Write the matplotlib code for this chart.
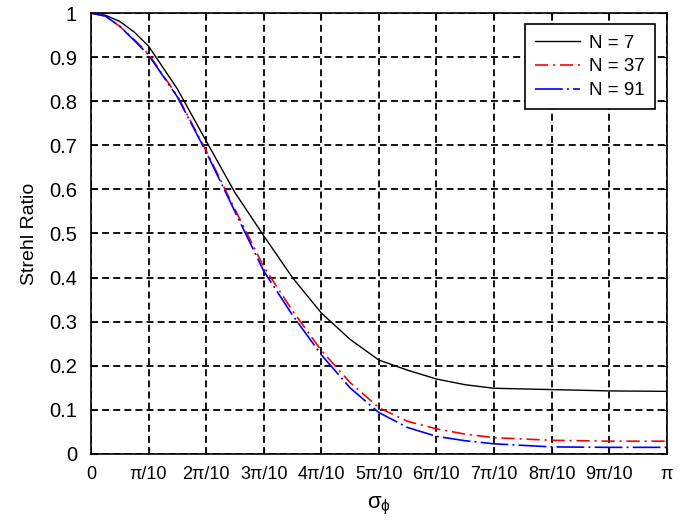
import numpy as np
import matplotlib
matplotlib.use('Agg')
import matplotlib.pyplot as plt

plt.rcParams['font.family'] = ['Liberation Sans', 'DejaVu Sans']
plt.rcParams['mathtext.fontset'] = 'custom'
plt.rcParams['mathtext.rm'] = 'Liberation Sans'
plt.rcParams['lines.scale_dashes'] = False

# x positions in units of pi/10
x_steps = [0, 0.25, 0.5, 0.75, 1, 1.5, 2, 2.5, 3, 3.5, 4, 4.5, 5, 5.5, 6, 6.5, 7, 8, 9, 10]

sr_n7 = [1.0, 0.995, 0.981, 0.957, 0.925, 0.828, 0.71, 0.593, 0.495, 0.40, 0.32,
         0.26, 0.213, 0.19, 0.17, 0.157, 0.149, 0.146, 0.143, 0.142]
sr_n37 = [1.0, 0.993, 0.97, 0.94, 0.907, 0.812, 0.688, 0.555, 0.425, 0.325, 0.235,
          0.162, 0.105, 0.074, 0.057, 0.045, 0.037, 0.031, 0.029, 0.029]
sr_n91 = [1.0, 0.993, 0.97, 0.938, 0.905, 0.81, 0.685, 0.55, 0.415, 0.315, 0.225,
          0.15, 0.094, 0.06, 0.04, 0.03, 0.023, 0.016, 0.015, 0.015]

tick_labels = ['0', 'π/10', '2π/10', '3π/10', '4π/10', '5π/10', '6π/10',
               '7π/10', '8π/10', '9π/10', 'π']

x = np.array(x_steps) * np.pi / 10

fig = plt.figure(figsize=(6.89, 5.23), dpi=100)
ax = fig.add_axes([0.132, 0.132, 0.8356, 0.8431])

ax.plot(x, sr_n7, color='black', lw=1.0, label='N = 7')
ax.plot(x, sr_n37, color='red', lw=1.2, dashes=(9.5, 3.5, 1.5, 3.5), label='N = 37')
ax.plot(x, sr_n91, color='blue', lw=1.2, dashes=(20, 3, 1.4, 3), label='N = 91')

ax.set_xlim(0, np.pi)
ax.set_ylim(0, 1)
ax.set_xticks(np.arange(11) * np.pi / 10)
ax.set_xticklabels(tick_labels)
ax.set_yticks(np.arange(11) / 10)
ax.set_yticklabels(['0', '0.1', '0.2', '0.3', '0.4', '0.5', '0.6', '0.7', '0.8', '0.9', '1'])
ax.tick_params(direction='in', length=4, top=True, right=True)
ax.tick_params(axis='y', labelsize=14.5, pad=10)
ax.tick_params(axis='x', labelsize=13, pad=9)
ax.grid(True, color='black', linestyle=(0, (5, 3)), lw=1.3)
for s in ax.spines.values():
    s.set_linewidth(1.2)

ax.set_xlabel(r'$\mathrm{\sigma_{\phi}}$', fontsize=16, labelpad=8)
ax.set_ylabel('Strehl Ratio', fontsize=14, labelpad=8)

leg = ax.legend(loc='upper right', fontsize=13.5, fancybox=False, framealpha=1,
                edgecolor='black', borderaxespad=0.6, handlelength=2.4,
                handletextpad=0.5, labelspacing=0.35, borderpad=0.55)
leg.get_frame().set_linewidth(1.2)

fig.savefig('out.png', dpi=100)
